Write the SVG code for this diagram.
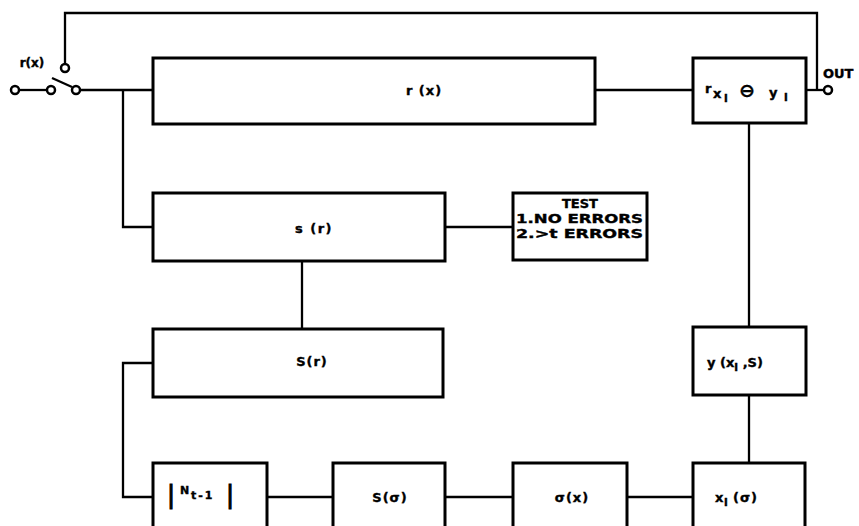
<svg xmlns="http://www.w3.org/2000/svg" width="859" height="526" viewBox="0 0 859 526">
<style>
.box{fill:#fff;stroke:#000;stroke-width:3}
.ln{fill:none;stroke:#000;stroke-width:2.3}
.term{fill:#fff;stroke:#000;stroke-width:2.5}
text{font-family:"DejaVu Sans","Liberation Sans",sans-serif;font-weight:bold;font-size:13px;fill:#000;stroke:#000;stroke-width:0.4}
.c{text-anchor:middle}
.sub{font-size:11px}
.bar{font-size:24px;font-weight:normal;stroke-width:1}
.op{font-size:19px}
</style>
<rect width="859" height="526" fill="#fff"/>
<g id="connectors">
<path class="ln" d="M65 64 V13 H817 V90"/>
<path class="ln" d="M19 90 H47"/>
<path class="ln" d="M52 78 L72 87"/>
<path class="ln" d="M80 90 H153"/>
<path class="ln" d="M123 90 V227 H153"/>
<path class="ln" d="M595 90 H693"/>
<path class="ln" d="M806 90 H824"/>
<path class="ln" d="M749 122 V327"/>
<path class="ln" d="M445 227 H513"/>
<path class="ln" d="M302 261 V329"/>
<path class="ln" d="M153 363 H123 V497 H153"/>
<path class="ln" d="M267 497 H333"/>
<path class="ln" d="M445 497 H513"/>
<path class="ln" d="M627 497 H693"/>
<path class="ln" d="M749 395 V463"/>
</g>
<g id="switch">
<circle class="term" cx="15" cy="90" r="4"/>
<circle class="term" cx="51" cy="90" r="4"/>
<circle class="term" cx="76" cy="90" r="4"/>
<circle class="term" cx="65" cy="68" r="4"/>
<text x="32" y="67" class="c" style="font-size:12px">r(x)</text>
</g>
<g id="out">
<circle class="term" cx="828" cy="90" r="4"/>
<text x="823" y="78">OUT</text>
</g>
<g id="n-rx">
<rect class="box" x="153" y="58" width="442" height="66"/>
<text x="424" y="95" class="c" letter-spacing="1">r (x)</text>
</g>
<g id="n-sub">
<rect class="box" x="693" y="58" width="113" height="65"/>
<text x="705" y="93">r</text>
<text x="713" y="98">x</text>
<text x="724" y="102" class="sub">l</text>
<text x="747" y="97" class="c op">⊖</text>
<text x="769" y="97">y</text>
<text x="784" y="101" class="sub">l</text>
</g>
<g id="n-sr">
<rect class="box" x="153" y="193" width="292" height="68"/>
<text x="314" y="233" class="c" letter-spacing="1.5">s (r)</text>
</g>
<g id="n-test">
<rect class="box" x="513" y="193" width="134" height="67"/>
<text x="580" y="208" class="c">TEST</text>
<text x="516" y="223" textLength="127" lengthAdjust="spacingAndGlyphs">1.NO ERRORS</text>
<text x="516" y="238" textLength="127" lengthAdjust="spacingAndGlyphs">2.&gt;t ERRORS</text>
</g>
<g id="n-Sr">
<rect class="box" x="153" y="329" width="290" height="68"/>
<text x="312" y="366" class="c" letter-spacing="1">S(r)</text>
</g>
<g id="n-y">
<rect class="box" x="693" y="327" width="113" height="68"/>
<text x="707" y="367">y (x<tspan class="sub" dy="4">l</tspan><tspan dy="-4"> ,S)</tspan></text>
</g>
<g id="n-N">
<path class="box" d="M153 530 V463 H267 V530"/>
<text x="167" y="503" class="bar">|</text>
<text x="180" y="494" class="sub">N</text>
<text x="191" y="499" class="sub" letter-spacing="2">t-1</text>
<text x="226" y="503" class="bar">|</text>
</g>
<g id="n-Ssig">
<path class="box" d="M333 530 V463 H445 V530"/>
<text x="390" y="502" class="c" letter-spacing="1">S(σ)</text>
</g>
<g id="n-sigx">
<path class="box" d="M513 530 V463 H627 V530"/>
<text x="572" y="502" class="c" letter-spacing="1">σ(x)</text>
</g>
<g id="n-xl">
<path class="box" d="M693 530 V463 H805 V530"/>
<text x="715" y="502">x</text>
<text x="724" y="506" class="sub">l</text>
<text x="733" y="502" letter-spacing="1">(σ)</text>
</g>
</svg>
